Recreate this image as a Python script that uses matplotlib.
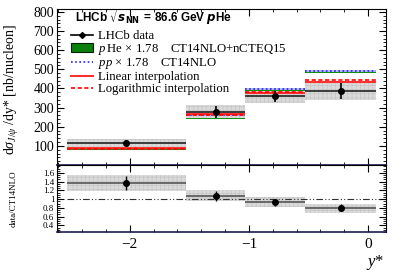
import matplotlib
matplotlib.use("Agg")
import matplotlib.pyplot as plt
from matplotlib.lines import Line2D
from matplotlib.patches import Patch
from matplotlib.ticker import MultipleLocator, FixedLocator

# Data
edges = [-2.53, -1.53, -1.03, -0.53, 0.07]
centers = [-2.03, -1.28, -0.78, -0.23]
data = [115, 276, 358, 387]
data_err = [17, 31, 31, 43]
band_lo = [94, 240, 322, 337]
band_hi = [136, 312, 394, 437]
pp_ct14 = [89, 262, 396, 490]
phe_ncteq = [79, 244, 388, 484]
lin_interp = [87, 268, 375, 432]
log_interp = [85, 262, 381, 446]

ratio = [1.36, 1.075, 0.925, 0.80]
ratio_err = [0.16, 0.11, 0.07, 0.08]
ratio_lo = [1.18, 0.96, 0.825, 0.69]
ratio_hi = [1.545, 1.20, 1.05, 0.90]

plt.rcParams['font.family'] = ['Liberation Serif', 'DejaVu Serif']
plt.rcParams['mathtext.fontset'] = 'custom'
plt.rcParams['mathtext.rm'] = 'Liberation Serif'
plt.rcParams['mathtext.it'] = 'Liberation Serif:italic'
plt.rcParams['hatch.linewidth'] = 0.5

W, H = 407, 276
fig = plt.figure(figsize=(W / 100, H / 100), dpi=100)
ax = fig.add_axes([57 / W, 1 - 165 / H, 329 / W, 156 / H])
axr = fig.add_axes([57 / W, 1 - 232 / H, 329 / W, 67 / H], sharex=ax)

GRAY = '#dadada'
HATCH = '#c6c6c6'

for i in range(len(centers)):
    x0, x1 = edges[i], edges[i + 1]
    # data uncertainty band
    ax.fill_between([x0, x1], band_lo[i], band_hi[i], facecolor=GRAY,
                    edgecolor=HATCH, hatch='++++', lw=0, zorder=1)
    # pp CT14NLO band + dotted line
    ax.fill_between([x0, x1], pp_ct14[i] - 4, pp_ct14[i] + 4,
                    color='#b4bcf4', lw=0, zorder=2)
    ax.hlines(pp_ct14[i], x0, x1, color='#2020ff', ls=(0, (1, 1.5)), lw=1.2, zorder=4)
    # pHe nCTEQ15
    ax.fill_between([x0, x1], phe_ncteq[i] - 3, phe_ncteq[i] + 3,
                    color='#109010', lw=0, zorder=3)
    ax.hlines(lin_interp[i], x0, x1, color='#ff3030', lw=1.5, zorder=4)
    ax.hlines(log_interp[i], x0, x1, color='#ff0000', ls=(0, (2.5, 1.5)), lw=1.2, zorder=4)
    ax.hlines(data[i], x0, x1, color='#303030', lw=1.3, zorder=5)

    axr.fill_between([x0, x1], ratio_lo[i], ratio_hi[i], facecolor=GRAY,
                     edgecolor=HATCH, hatch='++++', lw=0, zorder=1)
    axr.hlines(ratio[i], x0, x1, color='#606060', lw=1.3, zorder=3)

ax.errorbar(centers, data, yerr=data_err, fmt='o', color='k', ms=4,
            elinewidth=1.2, capsize=0, zorder=6)
axr.errorbar(centers, ratio, yerr=ratio_err, fmt='o', color='k', ms=4,
             elinewidth=1.0, capsize=0, zorder=6)
axr.hlines(1.0, edges[0], 0.10, color='#303030', ls=(0, (6, 2, 1, 2, 1, 2)),
           lw=0.8, zorder=2)

ax.set_xlim(-2.61, 0.15)
ax.set_ylim(0, 815)
axr.set_ylim(0.25, 1.78)

for a in (ax, axr):
    a.tick_params(which='both', direction='in', top=True, right=True)
    a.tick_params(which='major', length=5, width=0.8)
    a.tick_params(which='minor', length=2.5, width=0.6)
    a.xaxis.set_major_locator(MultipleLocator(1))
    a.xaxis.set_minor_locator(MultipleLocator(0.2))
    for s in a.spines.values():
        s.set_linewidth(0.8)
    a.spines['bottom'].set_color('#1c1c50')
    a.spines['bottom'].set_linewidth(1.2)

ax.yaxis.set_minor_locator(MultipleLocator(20))
ax.set_yticks([100, 200, 300, 400, 500, 600, 700, 800])
ax.tick_params(axis='y', labelsize=10, pad=2)
ax.tick_params(axis='x', labelbottom=False)

axr.yaxis.set_major_locator(FixedLocator([0.4, 0.6, 0.8, 1.0, 1.2, 1.4, 1.6]))
axr.yaxis.set_minor_locator(MultipleLocator(0.05))
axr.set_yticklabels(['0.4', '0.6', '0.8', '1', '1.2', '1.4', '1.6'])
axr.tick_params(axis='y', labelsize=6.5, pad=2)
axr.tick_params(axis='x', labelsize=11, pad=4)

# legend
handles = [
    Line2D([], [], color='k', marker='D', ms=3, lw=1.2),
    Patch(facecolor='#0a800a', edgecolor='#002000', lw=0.8),
    Line2D([], [], color='#2020ff', ls=(0, (1, 1.5)), lw=1.2),
    Line2D([], [], color='#ff3030', lw=1.5),
    Line2D([], [], color='#ff0000', ls=(0, (2.5, 1.5)), lw=1.2),
]
labels = [
    'LHCb data',
    r'$p\,$He $\times$ 1.78    CT14NLO+nCTEQ15',
    r'$pp$ $\times$ 1.78    CT14NLO',
    'Linear interpolation',
    'Logarithmic interpolation',
]
fig.legend(handles, labels, loc='upper left', bbox_to_anchor=(71 / W, 1 - 30 / H),
           frameon=False, fontsize=9.2, handlelength=1.75, handletextpad=0.35,
           labelspacing=-0.02, borderpad=0, borderaxespad=0)

fig.text(75 / W, 1 - 17 / H, r'LHCb $\sqrt{\boldsymbol{s}_{\mathbf{NN}}}$ = 86.6 GeV $\boldsymbol{p}$He',
         family='Liberation Sans', weight='bold', fontsize=8.5, va='center', ha='left',
         math_fontfamily='dejavusans')

fig.text(12 / W, 1 - 90 / H, r'd$\sigma_{J/\psi}$ /dy* [nb/nucleon]', rotation=90,
         ha='center', va='center', fontsize=10)
fig.text(14 / W, 1 - 199 / H, 'data/CT14NLO', rotation=90, ha='center', va='center',
         fontsize=6.5)
fig.text(384 / W, 1 - 262 / H, r'$y$*', ha='right', va='center', fontsize=12)

fig.savefig('out.png', dpi=100)
